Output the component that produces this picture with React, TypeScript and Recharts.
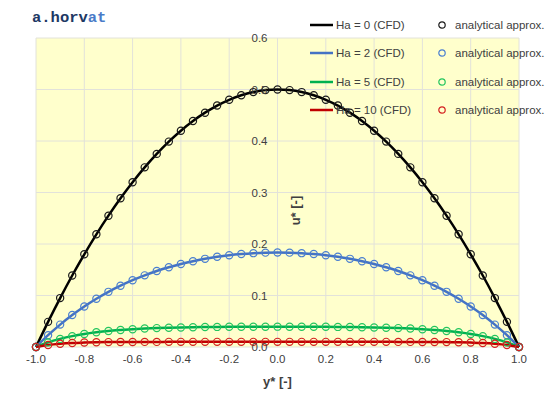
import React from 'react';
import { LineChart, Line, XAxis, YAxis, CartesianGrid, ReferenceDot } from 'recharts';

const yStar = [-1, -0.95, -0.9, -0.85, -0.8, -0.75, -0.7, -0.65, -0.6, -0.55, -0.5, -0.45, -0.4, -0.35, -0.3, -0.25, -0.2, -0.15, -0.1, -0.05, 0, 0.05, 0.1, 0.15, 0.2, 0.25, 0.3, 0.35, 0.4, 0.45, 0.5, 0.55, 0.6, 0.65, 0.7, 0.75, 0.8, 0.85, 0.9, 0.95, 1];
const uHa0 = [0, 0.0488, 0.095, 0.1388, 0.18, 0.2188, 0.255, 0.2888, 0.32, 0.3488, 0.375, 0.3988, 0.42, 0.4388, 0.455, 0.4688, 0.48, 0.4888, 0.495, 0.4988, 0.5, 0.4988, 0.495, 0.4888, 0.48, 0.4688, 0.455, 0.4388, 0.42, 0.3988, 0.375, 0.3488, 0.32, 0.2888, 0.255, 0.2188, 0.18, 0.1388, 0.095, 0.0488, 0];
const uHa2 = [0, 0.0229, 0.0435, 0.0621, 0.0787, 0.0937, 0.1071, 0.119, 0.1297, 0.1391, 0.1475, 0.1548, 0.1611, 0.1666, 0.1712, 0.1751, 0.1782, 0.1805, 0.1822, 0.1832, 0.1836, 0.1832, 0.1822, 0.1805, 0.1782, 0.1751, 0.1712, 0.1666, 0.1611, 0.1548, 0.1475, 0.1391, 0.1297, 0.119, 0.1071, 0.0937, 0.0787, 0.0621, 0.0435, 0.0229, 0];
const uHa5 = [0, 0.0089, 0.0157, 0.0211, 0.0253, 0.0285, 0.0311, 0.033, 0.0346, 0.0358, 0.0367, 0.0374, 0.038, 0.0384, 0.0387, 0.039, 0.0392, 0.0393, 0.0394, 0.0394, 0.0395, 0.0394, 0.0394, 0.0393, 0.0392, 0.039, 0.0387, 0.0384, 0.038, 0.0374, 0.0367, 0.0358, 0.0346, 0.033, 0.0311, 0.0285, 0.0253, 0.0211, 0.0157, 0.0089, 0];
const uHa10 = [0, 0.0039, 0.0063, 0.0078, 0.0086, 0.0092, 0.0095, 0.0097, 0.0098, 0.0099, 0.0099, 0.01, 0.01, 0.01, 0.01, 0.01, 0.01, 0.01, 0.01, 0.01, 0.01, 0.01, 0.01, 0.01, 0.01, 0.01, 0.01, 0.01, 0.01, 0.01, 0.0099, 0.0099, 0.0098, 0.0097, 0.0095, 0.0092, 0.0086, 0.0078, 0.0063, 0.0039, 0];

const xTicks = [-1, -0.8, -0.6, -0.4, -0.2, 0, 0.2, 0.4, 0.6, 0.8, 1];
const yTicks = [0, 0.1, 0.2, 0.3, 0.4, 0.5, 0.6];

const seriesKeys = ['u0', 'u2', 'u5', 'u10'];
const seriesNames = ['Ha = 0 (CFD)', 'Ha = 2 (CFD)', 'Ha = 5 (CFD)', 'Ha = 10 (CFD)'];
const analyticalName = 'analytical approx.';
const lineColors = ['#000000', '#4472C4', '#00B050', '#C00000'];
const markerColors = ['#1a1a1a', '#4a7fd0', '#22c55e', '#d42020'];

const data = yStar.map((y, i) => ({ y, u0: uHa0[i], u2: uHa2[i], u5: uHa5[i], u10: uHa10[i] }));

const FONT = '"Liberation Sans", Arial, sans-serif';
const TEXT = '#404040';

const YTitle = (props: any) => {
  const vb = props.viewBox || {};
  const x = vb.x + 18;
  const y = vb.y;
  return (
    <text x={x} y={y} transform={`rotate(-90 ${x} ${y})`} textAnchor="middle" dominantBaseline="central"
      fontFamily={FONT} fontSize={13} fontWeight="bold" fill={TEXT}>u* [-]</text>
  );
};

export default function App() {
  return (
    <div style={{ position: 'absolute', left: 0, top: 0, width: 560, height: 399, background: '#fff' }}>
      <LineChart width={560} height={399} data={data} margin={{ top: 38, right: 41, left: 36, bottom: 0 }}>
        <CartesianGrid stroke="#e2e2da" strokeWidth={1} fill="#FFFFCC" fillOpacity={1}
          horizontalValues={yTicks} verticalValues={xTicks} />
        <XAxis dataKey="y" type="number" domain={[-1, 1]} ticks={xTicks} height={52}
          axisLine={false} tickLine={false} interval={0}
          tickFormatter={(v: number) => v.toFixed(1)}
          tick={{ fill: TEXT, fontSize: 11.5, fontFamily: FONT }}
          label={{ value: 'y* [-]', position: 'insideBottom', offset: 13, fill: TEXT, fontSize: 13, fontWeight: 'bold', fontFamily: FONT }} />
        <YAxis type="number" domain={[0, 0.6]} ticks={yTicks} hide />
        {seriesKeys.map((k, i) => [
          <Line key={k + 'l'} dataKey={k} type="monotone" stroke={lineColors[i]} strokeWidth={2.5}
            dot={false} isAnimationActive={false} />,
          <Line key={k + 'm'} dataKey={k} type="monotone" stroke="none" strokeWidth={0}
            dot={{ r: 3.6, stroke: markerColors[i], strokeWidth: 1.2, fill: 'none' }}
            activeDot={false} isAnimationActive={false} />,
        ])}
        {yTicks.map((v) => (
          <ReferenceDot key={'yt' + v} x={0} y={v} r={0} fill="none" stroke="none" ifOverflow="visible"
            label={{ value: v.toFixed(1), position: 'left', offset: 10, fill: TEXT, fontSize: 11.5, fontFamily: FONT }} />
        ))}
        <ReferenceDot x={0} y={0.265} r={0} fill="none" stroke="none" ifOverflow="visible"
          label={<YTitle />} />
      </LineChart>
      <div style={{ position: 'absolute', left: 32, top: 8, fontFamily: '"Liberation Mono", monospace', fontWeight: 'bold', fontSize: 15.5, lineHeight: '20px', whiteSpace: 'nowrap' }}>
        <span style={{ color: '#203864' }}>a.horv</span><span style={{ color: '#4a7bc8' }}>at</span>
      </div>
      {seriesNames.map((name, i) => (
        <React.Fragment key={name}>
          <div style={{ position: 'absolute', left: 310, top: 25 + i * 28.3 - 8, height: 16, display: 'flex', alignItems: 'center', fontFamily: FONT, fontSize: 11.5, color: TEXT, whiteSpace: 'nowrap' }}>
            <svg width={24} height={16} style={{ display: 'block' }}>
              <line x1={0} y1={8} x2={23} y2={8} stroke={lineColors[i]} strokeWidth={2.5} />
            </svg>
            <span style={{ marginLeft: 2 }}>{name}</span>
          </div>
          <div style={{ position: 'absolute', left: 436, top: 25 + i * 28.3 - 8, height: 16, display: 'flex', alignItems: 'center', fontFamily: FONT, fontSize: 11.5, color: TEXT, whiteSpace: 'nowrap' }}>
            <svg width={12} height={16} style={{ display: 'block' }}>
              <circle cx={6} cy={8} r={3.2} stroke={markerColors[i]} strokeWidth={1.2} fill="none" />
            </svg>
            <span style={{ marginLeft: 7 }}>{analyticalName}</span>
          </div>
        </React.Fragment>
      ))}
    </div>
  );
}
